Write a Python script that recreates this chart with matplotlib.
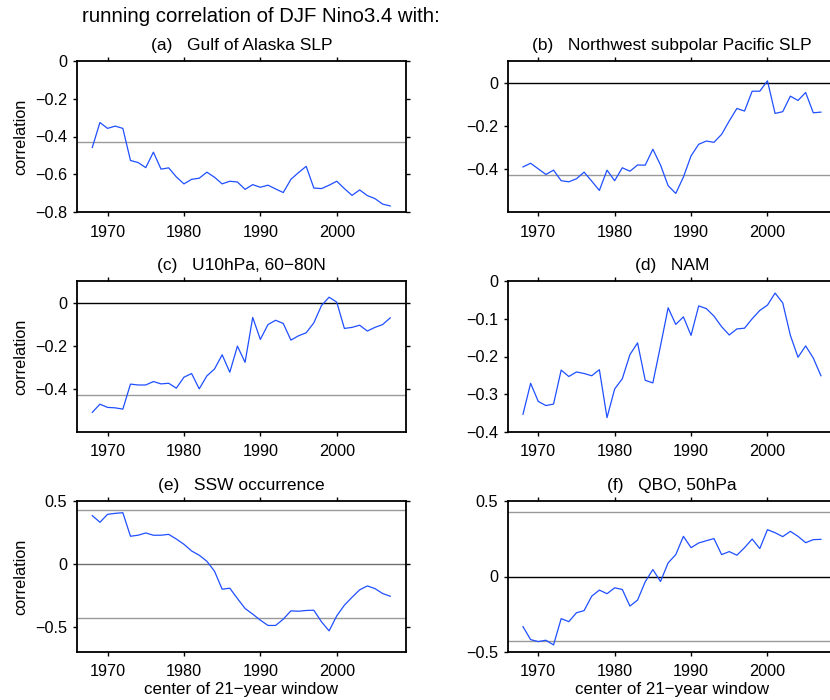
import numpy as np
import matplotlib
matplotlib.use("Agg")
import matplotlib.pyplot as plt

plt.rcParams['font.family'] = ['Liberation Sans', 'DejaVu Sans']

# centre year of each 21-year window
years = np.arange(1968, 2008)

gulf_alaska = [-0.458, -0.326, -0.357, -0.345, -0.357, -0.527, -0.538, -0.565, -0.483, -0.573,
               -0.566, -0.614, -0.651, -0.627, -0.621, -0.589, -0.616, -0.651, -0.637, -0.641,
               -0.680, -0.655, -0.669, -0.658, -0.678, -0.697, -0.627, -0.591, -0.558, -0.673,
               -0.676, -0.658, -0.637, -0.676, -0.712, -0.683, -0.713, -0.729, -0.758, -0.768]

nw_pacific = [-0.391, -0.374, -0.400, -0.426, -0.406, -0.455, -0.460, -0.446, -0.415, -0.457,
              -0.500, -0.406, -0.455, -0.395, -0.411, -0.382, -0.383, -0.309, -0.382, -0.478,
              -0.514, -0.438, -0.340, -0.286, -0.271, -0.277, -0.240, -0.178, -0.120, -0.132,
              -0.040, -0.040, 0.008, -0.143, -0.135, -0.063, -0.083, -0.046, -0.140, -0.137]

u10 = [-0.509, -0.471, -0.486, -0.488, -0.494, -0.378, -0.382, -0.382, -0.366, -0.377,
       -0.374, -0.397, -0.346, -0.329, -0.400, -0.340, -0.308, -0.242, -0.323, -0.202,
       -0.277, -0.069, -0.171, -0.102, -0.082, -0.097, -0.174, -0.154, -0.140, -0.094,
       -0.014, 0.025, 0.002, -0.120, -0.115, -0.105, -0.132, -0.115, -0.102, -0.071]

nam = [-0.353, -0.271, -0.319, -0.330, -0.326, -0.236, -0.253, -0.241, -0.245, -0.251,
       -0.235, -0.362, -0.286, -0.259, -0.195, -0.164, -0.263, -0.270, -0.172, -0.071,
       -0.115, -0.095, -0.144, -0.066, -0.073, -0.093, -0.121, -0.143, -0.127, -0.125,
       -0.100, -0.078, -0.064, -0.032, -0.058, -0.144, -0.202, -0.172, -0.204, -0.251]

ssw = [0.384, 0.331, 0.394, 0.402, 0.407, 0.220, 0.228, 0.246, 0.228, 0.228,
       0.235, 0.198, 0.156, 0.103, 0.069, 0.021, -0.058, -0.201, -0.193, -0.275,
       -0.354, -0.399, -0.447, -0.489, -0.489, -0.439, -0.373, -0.376, -0.370, -0.368,
       -0.460, -0.532, -0.413, -0.328, -0.265, -0.206, -0.175, -0.196, -0.235, -0.257]

qbo = [-0.332, -0.418, -0.431, -0.422, -0.453, -0.279, -0.299, -0.240, -0.226, -0.130,
       -0.090, -0.114, -0.075, -0.086, -0.196, -0.156, -0.035, 0.046, -0.033, 0.090,
       0.145, 0.266, 0.191, 0.222, 0.237, 0.251, 0.145, 0.165, 0.141, 0.191,
       0.248, 0.185, 0.310, 0.290, 0.264, 0.299, 0.266, 0.224, 0.244, 0.246]

titles = ['(a)   Gulf of Alaska SLP', '(b)   Northwest subpolar Pacific SLP',
          '(c)   U10hPa, 60\u221280N', '(d)   NAM',
          '(e)   SSW occurrence', '(f)   QBO, 50hPa']
series = [gulf_alaska, nw_pacific, u10, nam, ssw, qbo]
ylims = [(-0.8, 0), (-0.6, 0.1), (-0.6, 0.1), (-0.4, 0), (-0.7, 0.5), (-0.5, 0.5)]
yticks = [np.arange(-0.8, 0.01, 0.2), [-0.4, -0.2, 0], [-0.4, -0.2, 0],
          np.arange(-0.4, 0.01, 0.1), [-0.5, 0, 0.5], [-0.5, 0, 0.5]]
ytlabels = [['\u22120.8', '\u22120.6', '\u22120.4', '\u22120.2', '0'],
            ['\u22120.4', '\u22120.2', '0'], ['\u22120.4', '\u22120.2', '0'],
            ['\u22120.4', '\u22120.3', '\u22120.2', '\u22120.1', '0'],
            ['\u22120.5', '0', '0.5'], ['\u22120.5', '0', '0.5']]
signif = 0.43
zero_colors = [None, 'black', 'black', None, '#707070', 'black']

W, H = 830, 700
fig = plt.figure(figsize=(W / 100, H / 100), dpi=100)

lefts = [77, 507.7]
tops = [61, 281, 501]
pw, ph = 328.5, 151

for i in range(6):
    row, col = divmod(i, 2)
    ax = fig.add_axes([lefts[col] / W, 1 - (tops[row] + ph) / H, pw / W, ph / H])
    ylo, yhi = ylims[i]
    for lev in (-signif, signif):
        if ylo < lev < yhi:
            ax.axhline(lev, color='#999999', lw=1.0, zorder=1)
    if zero_colors[i] is not None:
        ax.axhline(0, color=zero_colors[i], lw=1.0, zorder=1)
    ax.plot(years, series[i], color='#1f4fff', lw=0.9, zorder=3)
    ax.set_xlim(1966, 2009)
    ax.set_ylim(ylo, yhi)
    ax.set_xticks([1970, 1980, 1990, 2000])
    ax.set_yticks(yticks[i])
    ax.set_yticklabels(ytlabels[i])
    ax.tick_params(direction='out', length=3, width=1.0, labelsize=11.7,
                   top=True, right=True, pad=4)
    ax.tick_params(axis='x', pad=6)
    for sp in ax.spines.values():
        sp.set_linewidth(1.3)
    ax.set_title(titles[i], fontsize=12.5, pad=8)
    if col == 0:
        ax.set_ylabel('correlation', fontsize=11.7, labelpad=5)
    if row == 2:
        ax.set_xlabel('center of 21\u2212year window', fontsize=12.2, labelpad=2)

fig.text(82 / W, 1 - 17 / H, 'running correlation of DJF Nino3.4 with:',
         fontsize=14.7, ha='left', va='center')

fig.savefig('out.png', dpi=100)
